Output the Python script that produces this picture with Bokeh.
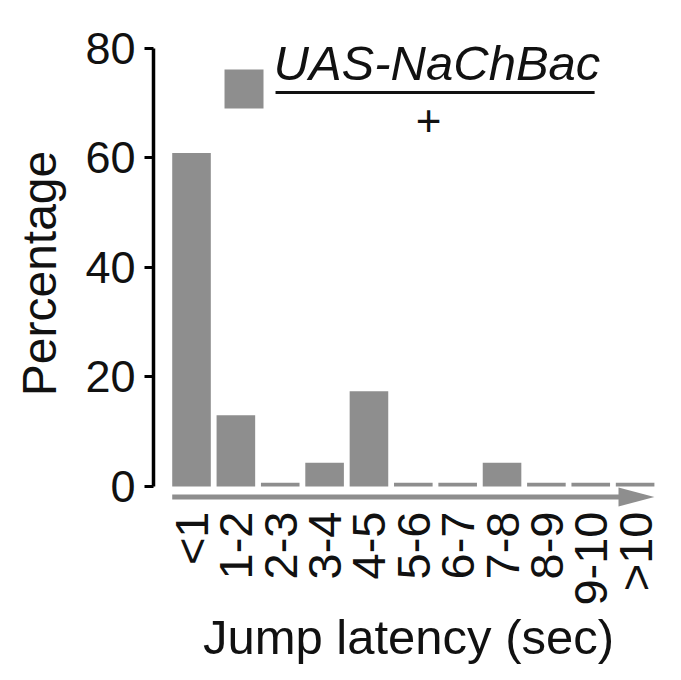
import numpy as np
from bokeh.plotting import figure
from bokeh.models import Range1d, FixedTicker, Label, BoxAnnotation, ColumnDataSource
from bokeh.embed import file_html
from bokeh.resources import INLINE

categories = ["<1", "1-2", "2-3", "3-4", "4-5", "5-6", "6-7", "7-8", "8-9", "9-10", ">10"]
percentages = [60.9, 13.0, 0.0, 4.35, 17.4, 0.0, 0.0, 4.35, 0.0, 0.0, 0.0]
y_ticks = [0, 20, 40, 60, 80]
legend_top = "UAS-NaChBac"
legend_bottom = "+"

FONT = "Liberation Sans"
BAR = "#8e8e8e"
INK = "#111111"

n = len(categories)
xs = np.arange(n)
bar_w = 0.87
min_vis = 0.7  # zero-valued bins are drawn as a thin stub, as in the original
src = ColumnDataSource(dict(x=xs, top=np.maximum(np.array(percentages), min_vis)))

p = figure(frame_width=510, frame_height=472, output_backend="svg", toolbar_location=None,
           x_range=Range1d(-0.857, 10.64), y_range=Range1d(-4.2, 82),
           min_border_left=153, min_border_top=37, min_border_right=8, min_border_bottom=10)
p.background_fill_color = None
p.border_fill_color = "white"
p.outline_line_color = None
p.xgrid.grid_line_color = None
p.ygrid.grid_line_color = None

p.vbar(x="x", top="top", bottom=0, width=bar_w, source=src, fill_color=BAR, line_color=None)

# arrow under bars
x0 = xs[0] - bar_w / 2
x1 = xs[-1] + bar_w / 2
ya = -1.92
head_len = 0.81
p.segment(x0=[x0], y0=[ya], x1=[x1 - head_len + 0.05], y1=[ya], line_color=BAR, line_width=5)
p.patch(x=[x1 - head_len, x1, x1 - head_len], y=[ya + 1.735, ya, ya - 1.735],
        fill_color=BAR, line_color=None)

# y axis
ya_ax = p.yaxis[0]
ya_ax.ticker = FixedTicker(ticks=y_ticks)
ya_ax.bounds = (0, 80)
ya_ax.axis_line_width = 3.5
ya_ax.axis_line_color = "black"
ya_ax.major_tick_line_width = 3
ya_ax.major_tick_line_color = "black"
ya_ax.major_tick_out = 9
ya_ax.major_tick_in = 0
ya_ax.minor_tick_line_color = None
ya_ax.major_label_standoff = 9
ya_ax.major_label_text_font = FONT
ya_ax.major_label_text_font_size = "45px"
ya_ax.major_label_text_color = INK
ya_ax.axis_label = "Percentage"
ya_ax.axis_label_text_font = FONT
ya_ax.axis_label_text_font_size = "48px"
ya_ax.axis_label_text_font_style = "normal"
ya_ax.axis_label_text_color = INK
ya_ax.axis_label_standoff = 16

# x axis
xa = p.xaxis[0]
xa.ticker = FixedTicker(ticks=list(xs))
xa.major_label_overrides = {int(i): c for i, c in zip(xs, categories)}
xa.major_label_orientation = np.pi / 2
xa.axis_line_color = None
xa.major_tick_line_color = None
xa.minor_tick_line_color = None
xa.major_tick_out = 0
xa.major_tick_in = 0
xa.major_label_standoff = 2
xa.major_label_text_font = FONT
xa.major_label_text_font_size = "47px"
xa.major_label_text_color = INK
xa.axis_label = "Jump latency (sec)"
xa.axis_label_text_font = FONT
xa.axis_label_text_font_size = "49px"
xa.axis_label_text_font_style = "normal"
xa.axis_label_text_color = INK
xa.axis_label_standoff = 1

# legend: grey square + genotype fraction
p.add_layout(BoxAnnotation(left=0.744, right=1.623, bottom=69.04, top=76.16,
                           fill_color=BAR, fill_alpha=1.0, line_color=None))
p.add_layout(Label(x=1.849, y=77.3, text=legend_top, text_font=FONT, text_font_size="49px",
                   text_font_style="italic", text_color=INK, text_baseline="alphabetic"))
p.segment(x0=[1.894], y0=[71.96], x1=[9.087], y1=[71.96], line_color=INK, line_width=3)
p.add_layout(Label(x=5.344, y=66.85, text=legend_bottom, text_font=FONT, text_font_size="44px",
                   text_color=INK, text_align="center", text_baseline="middle"))

open("out.html", "w").write(file_html(p, INLINE))
